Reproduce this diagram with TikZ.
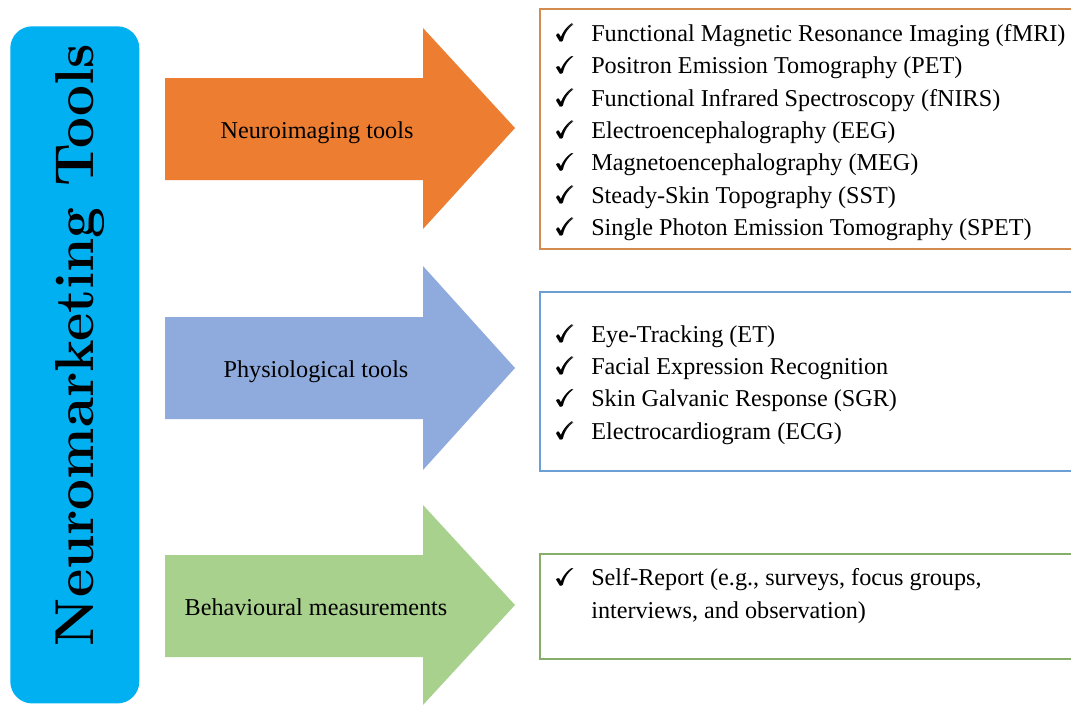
\documentclass[tikz,border=0pt]{standalone}
\usepackage{amsmath,amssymb}
\usepackage{fontspec}
\newfontfamily\listfont{Liberation Serif}
\usetikzlibrary{positioning}

\definecolor{barblue}{HTML}{00B0F0}
\definecolor{arrorange}{HTML}{ED7D31}
\definecolor{arrblue}{HTML}{8FAADC}
\definecolor{arrgreen}{HTML}{A9D18E}
\definecolor{lineorange}{HTML}{D38B50}
\definecolor{lineblue}{HTML}{6B9FD6}
\definecolor{linegreen}{HTML}{86AE68}

\newcommand{\tick}{\makebox[25.6pt][l]{$\pmb{\checkmark}$}}

\tikzset{
  titlebar/.style={fill=barblue, rounded corners=0.55cm, inner sep=0pt,
                   minimum width=3.225cm, minimum height=16.925cm},
  listbox/.style={draw, line width=1.3pt, fill=white, inner sep=0pt,
                  minimum width=13.6cm},
  listtext/.style={align=left, inner sep=0pt},
  armlabel/.style={inner sep=0pt},
}

\begin{document}
\begin{tikzpicture}[x=0.025cm, y=-0.025cm,
                    font=\listfont\fontsize{17.2}{23}\selectfont]
  \clip (0,0) rectangle (1071,705);
  \fill[white] (0,0) rectangle (1071,705);

  % vertical title bar
  \node[titlebar, anchor=north west] (bar) at (10,26) {};
  \node[rotate=90, anchor=base, inner sep=0pt,
        font=\normalfont\fontsize{39}{44}\selectfont\bfseries] (title) at (93,345)
    {Neuromarketing Tools};

  % block arrows
  \fill[arrorange] (165,78) -- (423,78) -- (423,28) -- (515,128)
    -- (423,229) -- (423,180) -- (165,180) -- cycle;
  \fill[arrblue] (165,317) -- (423,317) -- (423,266) -- (515,368)
    -- (423,470) -- (423,419) -- (165,419) -- cycle;
  \fill[arrgreen] (165,555) -- (423,555) -- (423,505) -- (515,605)
    -- (423,705) -- (423,657) -- (165,657) -- cycle;
  \node[armlabel, anchor=base] (neuro) at (317,138) {Neuroimaging tools};
  \node[armlabel, anchor=base] (physio) at (316,377) {Physiological tools};
  \node[armlabel, anchor=base] (behav) at (316,615) {Behavioural measurements};

  % lists of tools
  \node[listbox, draw=lineorange, minimum height=6cm, anchor=north west]
    (neurobox) at (539,8) {};
  \node[listbox, draw=lineblue, minimum height=4.475cm, anchor=north west]
    (physiobox) at (539,291) {};
  \node[listbox, draw=linegreen, minimum height=2.625cm, anchor=north west]
    (behavbox) at (539,553) {};

  \node[listtext, anchor=west] (neurolist) at (555,132.5)
    {\tick Functional Magnetic Resonance Imaging (fMRI)\\
     \tick Positron Emission Tomography (PET)\\
     \tick Functional Infrared Spectroscopy (fNIRS)\\
     \tick Electroencephalography (EEG)\\
     \tick Magnetoencephalography (MEG)\\
     \tick Steady-Skin Topography (SST)\\
     \tick Single Photon Emission Tomography (SPET)};
  \node[listtext, anchor=west] (physiolist) at (555,384.5)
    {\tick Eye-Tracking (ET)\\
     \tick Facial Expression Recognition\\
     \tick Skin Galvanic Response (SGR)\\
     \tick Electrocardiogram (ECG)};
  \node[listtext, anchor=west] (behavlist) at (555,596)
    {\tick Self-Report (e.g., surveys, focus groups,\\
     \makebox[25.6pt]{}interviews, and observation)};
\end{tikzpicture}
\end{document}
